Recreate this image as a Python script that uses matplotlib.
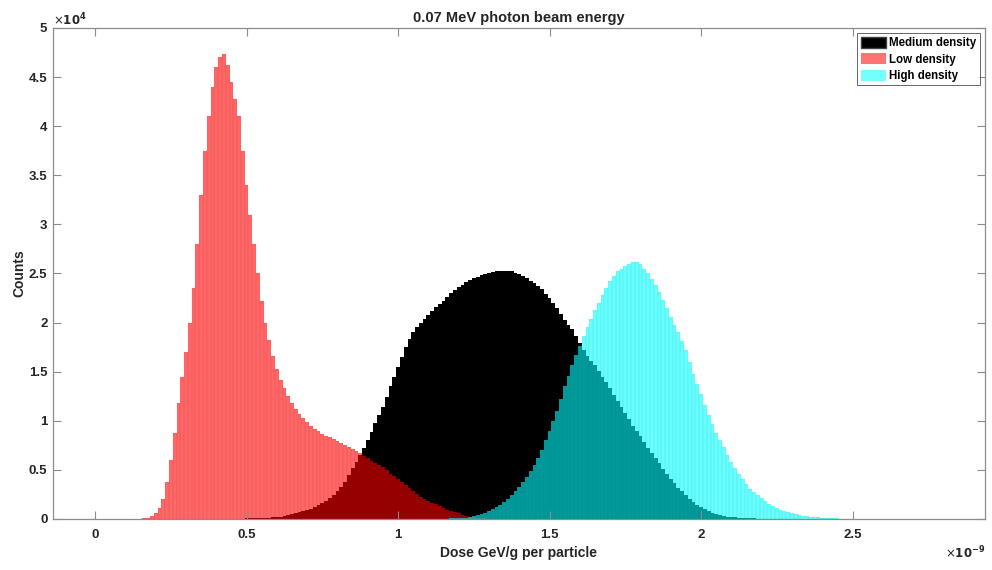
import numpy as np
import matplotlib
matplotlib.use("Agg")
import matplotlib.pyplot as plt
from matplotlib.patches import Patch

plt.rcParams['font.family'] = ['Liberation Sans', 'DejaVu Sans']

# dose axis in units of 1e-9 GeV/g, counts in units of 1e4
BIN_WIDTH = 0.0125

low_first_bin = 0.15
low_counts = [
    0.0, 0.005, 0.015, 0.03, 0.06, 0.11, 0.2, 0.38, 0.6, 0.88,
    1.18, 1.45, 1.7, 2.0, 2.35, 2.8, 3.3, 3.75, 4.1, 4.4,
    4.6, 4.7, 4.73, 4.62, 4.45, 4.28, 4.1, 3.75, 3.4, 3.1,
    2.8, 2.5, 2.22, 2.0, 1.82, 1.66, 1.53, 1.42, 1.33, 1.25,
    1.18, 1.12, 1.07, 1.03, 0.99, 0.95, 0.92, 0.895, 0.87, 0.85,
    0.83, 0.81, 0.79, 0.77, 0.75, 0.73, 0.71, 0.69, 0.67, 0.645,
    0.62, 0.595, 0.57, 0.55, 0.53, 0.495, 0.46, 0.435, 0.41, 0.38,
    0.35, 0.32, 0.29, 0.255, 0.22, 0.2, 0.18, 0.165, 0.15, 0.13,
    0.11, 0.095, 0.08, 0.07, 0.06, 0.045, 0.03, 0.025, 0.02, 0.015,
    0.01, 0.005,
]

medium_first_bin = 0.5
medium_counts = [
    0.005, 0.005, 0.01, 0.01, 0.01, 0.012, 0.015, 0.017, 0.02, 0.025,
    0.03, 0.04, 0.05, 0.06, 0.07, 0.08, 0.09, 0.105, 0.12, 0.14,
    0.16, 0.185, 0.21, 0.245, 0.28, 0.33, 0.38, 0.45, 0.52, 0.585,
    0.65, 0.72, 0.8, 0.89, 0.98, 1.06, 1.14, 1.245, 1.35, 1.45,
    1.55, 1.65, 1.75, 1.83, 1.9, 1.95, 2.0, 2.04, 2.08, 2.12,
    2.16, 2.19, 2.22, 2.26, 2.3, 2.33, 2.36, 2.385, 2.41, 2.43,
    2.45, 2.465, 2.48, 2.49, 2.5, 2.51, 2.52, 2.525, 2.53, 2.525,
    2.52, 2.505, 2.49, 2.47, 2.45, 2.425, 2.4, 2.37, 2.34, 2.295,
    2.25, 2.2, 2.15, 2.09, 2.03, 1.98, 1.93, 1.86, 1.79, 1.72,
    1.66, 1.61, 1.57, 1.51, 1.45, 1.39, 1.33, 1.265, 1.2, 1.14,
    1.08, 1.015, 0.95, 0.895, 0.84, 0.78, 0.72, 0.67, 0.62, 0.565,
    0.51, 0.46, 0.41, 0.365, 0.32, 0.28, 0.24, 0.205, 0.17, 0.145,
    0.12, 0.1, 0.08, 0.065, 0.05, 0.04, 0.03, 0.025, 0.02, 0.017,
    0.015, 0.012, 0.01, 0.007, 0.005,
]

high_first_bin = 1.175
high_counts = [
    0.005, 0.007, 0.01, 0.012, 0.015, 0.022, 0.03, 0.04, 0.05, 0.065,
    0.08, 0.1, 0.12, 0.145, 0.17, 0.205, 0.24, 0.285, 0.33, 0.38,
    0.43, 0.49, 0.55, 0.62, 0.7, 0.8, 0.9, 1.0, 1.1, 1.22,
    1.35, 1.46, 1.57, 1.67, 1.76, 1.86, 1.95, 2.04, 2.13, 2.2,
    2.28, 2.35, 2.42, 2.47, 2.52, 2.55, 2.58, 2.6, 2.62, 2.62,
    2.6, 2.55, 2.5, 2.44, 2.38, 2.31, 2.23, 2.15, 2.06, 1.98,
    1.9, 1.81, 1.72, 1.6, 1.48, 1.37, 1.27, 1.16, 1.06, 0.97,
    0.88, 0.8, 0.73, 0.65, 0.58, 0.52, 0.46, 0.41, 0.36, 0.31,
    0.27, 0.24, 0.21, 0.18, 0.15, 0.13, 0.11, 0.095, 0.08, 0.07,
    0.06, 0.05, 0.04, 0.035, 0.03, 0.025, 0.02, 0.017, 0.015, 0.012,
    0.01, 0.007, 0.005, 0.004, 0.003,
]

x_ticks = [0, 0.5, 1, 1.5, 2, 2.5]
y_ticks = [0, 0.5, 1, 1.5, 2, 2.5, 3, 3.5, 4, 4.5, 5]


def bin_centers(first, counts):
    """Bin centres for a histogram that starts at `first`."""
    return first + BIN_WIDTH * np.arange(len(counts))


fig = plt.figure(figsize=(9.92, 5.70), dpi=100)
ax = fig.add_axes([0.0534, 0.0895, 0.9395, 0.8615])

ax.bar(bin_centers(medium_first_bin, medium_counts), medium_counts,
       width=BIN_WIDTH, color='black', edgecolor='none')
ax.bar(bin_centers(low_first_bin, low_counts), low_counts,
       width=BIN_WIDTH, color=(1, 0, 0, 0.6),
       edgecolor=(0.35, 0, 0, 0.12), linewidth=0.3)
ax.bar(bin_centers(high_first_bin, high_counts), high_counts,
       width=BIN_WIDTH, color=(0, 1, 1, 0.6),
       edgecolor=(0, 0.3, 0.3, 0.12), linewidth=0.3)

axis_grey = '#8c8c8c'
text_dark = '#262626'

ax.set_xlim(-0.139, 2.937)
ax.set_ylim(0, 5)
for side in ax.spines.values():
    side.set_color(axis_grey)
    side.set_linewidth(0.9)
ax.tick_params(direction='in', top=True, right=True, length=5.5,
               width=0.8, color=axis_grey, labelsize=9.5,
               labelcolor=text_dark)
ax.tick_params(axis='x', pad=7)
ax.tick_params(axis='y', pad=4)
ax.set_xticks(x_ticks)
ax.set_xticklabels([f"{t:g}" for t in x_ticks], fontweight='bold')
ax.set_yticks(y_ticks)
ax.set_yticklabels([f"{t:g}" for t in y_ticks], fontweight='bold')

ax.set_title("0.07 MeV photon beam energy", fontsize=10.5, fontweight='bold',
             color=text_dark, pad=4)
ax.set_xlabel("Dose GeV/g per particle", fontsize=10, fontweight='bold',
              color=text_dark)
ax.set_ylabel("Counts", fontsize=10, fontweight='bold', color=text_dark)
ax.xaxis.set_label_coords(0.5, -0.054)
ax.yaxis.set_label_coords(-0.029, 0.5)

ax.text(0.0, 0.999, r"$\times\mathbf{10^{4}}$", transform=ax.transAxes,
        fontsize=8.5, color=text_dark, ha='left', va='bottom')
ax.text(1.0, -0.07, r"$\times\mathbf{10^{-9}}$", transform=ax.transAxes,
        fontsize=8.5, color=text_dark, ha='right', va='center')

handles = [
    Patch(facecolor='black', edgecolor='#404040', label='Medium density'),
    Patch(facecolor=(1, 0, 0, 0.55), edgecolor='none', label='Low density'),
    Patch(facecolor=(0, 1, 1, 0.55), edgecolor='none', label='High density'),
]
leg = ax.legend(handles=handles, loc='upper right', fancybox=False,
                prop={'weight': 'bold', 'size': 8.3}, borderaxespad=0.45,
                handlelength=2.2, handleheight=1.1, handletextpad=0.25,
                labelspacing=0.35, borderpad=0.3)
leg.get_frame().set_edgecolor('#404040')
leg.get_frame().set_linewidth(0.7)

fig.savefig("out.png", dpi=100)
